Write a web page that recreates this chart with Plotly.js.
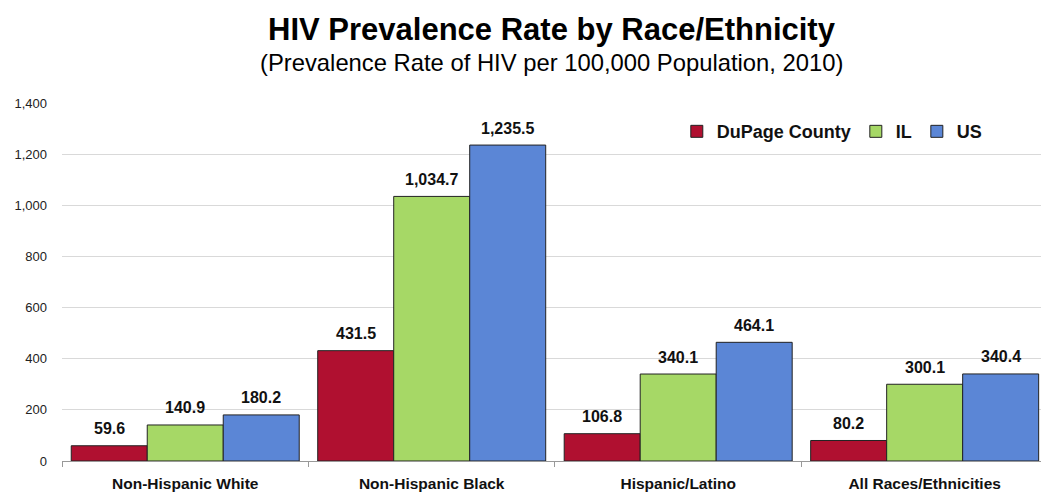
<!DOCTYPE html>
<html>
<head>
<meta charset="utf-8">
<script src="https://cdn.plot.ly/plotly-3.0.1.min.js"></script>
<style>html,body{margin:0;padding:0;background:#fff;}#chart{width:1041px;height:495px;}</style>
</head>
<body>
<div id="chart"></div>
<script>
const categories = ["Non-Hispanic White", "Non-Hispanic Black", "Hispanic/Latino", "All Races/Ethnicities"];
const seriesNames = ["DuPage County", "IL", "US"];
const dupage = [59.6, 431.5, 106.8, 80.2];
const il = [140.9, 1034.7, 340.1, 300.1];
const us = [180.2, 1235.5, 464.1, 340.4];
const colors = ["#B01030", "#A6D866", "#5B86D6"];
const yTicks = [0, 200, 400, 600, 800, 1000, 1200, 1400];

const FONT = "'Liberation Sans Narrow', 'Arial Narrow', 'Liberation Sans', Arial, sans-serif";
const fmt = v => v.toLocaleString('en-US', {minimumFractionDigits: 1, maximumFractionDigits: 1});

const values = [dupage, il, us];
const traces = values.map((vals, i) => ({
  type: 'bar',
  name: seriesNames[i],
  x: categories,
  y: vals,
  marker: {color: colors[i], line: {color: '#222', width: 1}},
  hoverinfo: 'x+y+name'
}));

// value labels above bars (offset within the group by one bar width)
const barPx = 76;
const labelAnns = [];
values.forEach((vals, i) => {
  vals.forEach((v, j) => {
    labelAnns.push({
      x: categories[j], y: v, xref: 'x', yref: 'y',
      text: '<b>' + fmt(v) + '</b>', showarrow: false,
      xshift: (i - 1) * barPx, yshift: 17,
      xanchor: 'center', yanchor: 'middle',
      font: {family: FONT, size: 16, color: '#111'}
    });
  });
});

const layout = {
  width: 1041, height: 495,
  margin: {l: 62, r: 0, t: 103, b: 34},
  paper_bgcolor: '#fff', plot_bgcolor: '#fff',
  font: {family: FONT, color: '#111'},
  title: {
    text: '<b>HIV Prevalence Rate by Race/Ethnicity</b>',
    font: {family: FONT, size: 31, color: '#000'},
    x: 0.5, xref: 'paper', xanchor: 'center',
    y: 0.942, yref: 'container', yanchor: 'middle'
  },
  annotations: [{
    text: '(Prevalence Rate of HIV per 100,000 Population, 2010)',
    xref: 'paper', yref: 'paper', x: 0.5, y: 1.112,
    xanchor: 'center', yanchor: 'middle', showarrow: false,
    font: {family: FONT, size: 23.8, color: '#000'}
  }].concat(labelAnns),
  barmode: 'group',
  bargap: 0.075,
  bargroupgap: 0,
  showlegend: true,
  legend: {
    orientation: 'h', x: 0.628, xanchor: 'left', y: 0.92, yanchor: 'middle',
    xref: 'paper', yref: 'paper',
    font: {family: FONT, size: 18, color: '#111', weight: 'bold'},
    bgcolor: 'rgba(255,255,255,0)', traceorder: 'normal'
  },
  xaxis: {
    type: 'category',
    range: [-0.5, 3.472],
    tickson: 'boundaries',
    ticks: 'outside', ticklen: 5, tickcolor: '#999', tickwidth: 1,
    showline: true, linecolor: '#999', linewidth: 1,
    showgrid: false,
    ticklabelstandoff: 8,
    tickfont: {family: FONT, size: 15.5, color: '#111', weight: 'bold'},
    fixedrange: true
  },
  yaxis: {
    range: [0, 1400],
    tickvals: yTicks,
    tickformat: ',',
    showgrid: true, gridcolor: '#d9d9d9', gridwidth: 1,
    zeroline: false, showline: false, ticks: '',
    ticklabelstandoff: 14,
    tickfont: {family: FONT, size: 13, color: '#222'},
    fixedrange: true
  }
};

Plotly.newPlot('chart', traces, layout, {displayModeBar: false, staticPlot: true});
</script>
</body>
</html>
